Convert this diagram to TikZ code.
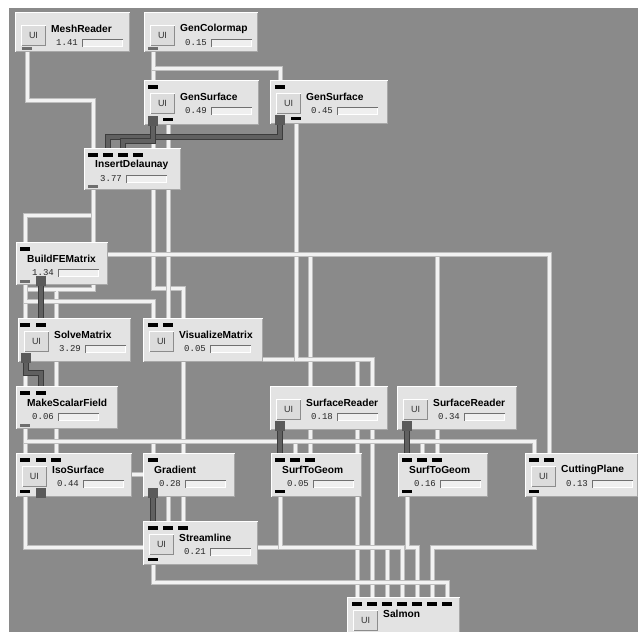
\documentclass[tikz,border=0pt]{standalone}
\usepackage{fontspec}
\setmainfont{Liberation Sans}
\newfontfamily\monof{Liberation Mono}
\definecolor{bg}{HTML}{8A8A8A}
\definecolor{modfill}{HTML}{E3E3E3}
\definecolor{modshd}{HTML}{A8A8A8}
\definecolor{btnfill}{HTML}{DCDCDC}
\definecolor{btnshd}{HTML}{8C8C8C}
\definecolor{barfill}{HTML}{EFEFEF}
\definecolor{barshd}{HTML}{707070}
\definecolor{pin}{HTML}{F2F2F2}
\definecolor{pout}{HTML}{BEBEBE}
\definecolor{din}{HTML}{606060}
\definecolor{dout}{HTML}{3C3C3C}
\definecolor{dport}{HTML}{5A5A5A}
\definecolor{gport}{HTML}{6E6E6E}
\newcommand\bevel[3]{%
  \draw[#2, line width=1pt] ([xshift=.5pt,yshift=.5pt]#1.south west) |- ([xshift=-.5pt,yshift=-.5pt]#1.north east);
  \draw[#3, line width=1pt] ([xshift=.5pt,yshift=.5pt]#1.south west) -| ([xshift=-.5pt,yshift=-.5pt]#1.north east);
}
\newcommand\smod[8]{%
  \node[modbody, minimum width=#4pt, minimum height=#5pt, anchor=north west] (#1) at (#2,#3) {};
  \bevel{#1}{white}{modshd}
  \ifnum#8=0
    \node[ttl] (#1-t) at (#2+11,#3+17) {#6};
    \node[tim] (#1-m) at (#2+16,#3+31) {#7};
    \node[barbox] (#1-b) at (#2+42,#3+27) {};
    \bevel{#1-b}{barshd}{white}
  \else
    \node[uibtn, anchor=north west] (#1-u) at (#2+6,#3+13) {UI};
    \bevel{#1-u}{white}{btnshd}
    \node[ttl] (#1-t) at (#2+36,#3+17) {#6};
    \ifnum#8=1
      \node[tim] (#1-m) at (#2+41,#3+31) {#7};
      \node[barbox] (#1-b) at (#2+67,#3+27) {};
      \bevel{#1-b}{barshd}{white}
    \fi
  \fi
}
\newcommand\portin[1]{\fill[black] ([xshift=-5pt,yshift=-5pt]#1) rectangle ([xshift=5pt,yshift=-8.5pt]#1);}
\newcommand\portout[1]{\fill[black] ([xshift=-5pt,yshift=4pt]#1) rectangle ([xshift=5pt,yshift=7.5pt]#1);}
\newcommand\portgray[1]{\fill[gport] ([xshift=-5pt,yshift=2pt]#1) rectangle ([xshift=5pt,yshift=5pt]#1);}
\newcommand\portdark[1]{\fill[dport] ([xshift=-5pt,yshift=-1pt]#1) rectangle ([xshift=5pt,yshift=9pt]#1);}
\begin{document}
\begin{tikzpicture}[x=1pt,y=-1pt,
  pipe/.style={draw=pin, line width=3pt, preaction={draw=pout, line width=5pt}},
  dpipe/.style={draw=din, line width=3.4pt, preaction={draw=dout, line width=5.4pt}},
  modbody/.style={rectangle, fill=modfill, inner sep=0pt, outer sep=0pt},
  uibtn/.style={rectangle, fill=btnfill, inner sep=0pt, outer sep=0pt, minimum width=25pt, minimum height=21pt, font=\fontsize{9}{10}\selectfont, text=black!80},
  ttl/.style={anchor=west, inner sep=0pt, font=\bfseries\fontsize{10.2}{12}\selectfont},
  tim/.style={anchor=west, inner sep=0pt, font=\monof\fontsize{9}{10}\selectfont, text=black!85},
  barbox/.style={rectangle, anchor=north west, fill=barfill, inner sep=0pt, outer sep=0pt, minimum width=41pt, minimum height=8pt},
]
\useasboundingbox (0,0) rectangle (638,632);
\clip (0,0) rectangle (638,632);
\fill[white] (0,0) rectangle (638,632);
\fill[bg] (9,8) rectangle (640,640);

% ---------- port coordinates ----------
\coordinate (mr-o) at (27,52);
\coordinate (gc-o) at (153,52);
\coordinate (gs1-i) at (153,80);
\coordinate (gs1-d) at (153,125);
\coordinate (gs1-g) at (168,125);
\coordinate (gs2-i) at (280,80);
\coordinate (gs2-d) at (280,124);
\coordinate (gs2-g) at (296,124);
\coordinate (id-i1) at (93,148);
\coordinate (id-i2) at (108,148);
\coordinate (id-i3) at (123,148);
\coordinate (id-i4) at (138,148);
\coordinate (id-o) at (93,190);
\coordinate (bfm-i) at (25,242);
\coordinate (bfm-o) at (25,285);
\coordinate (bfm-d) at (41,285);
\coordinate (sm-i1) at (25,318);
\coordinate (sm-i2) at (41,318);
\coordinate (sm-d) at (26,362);
\coordinate (vm-i1) at (153,318);
\coordinate (vm-i2) at (168,318);
\coordinate (msf-i1) at (25,386);
\coordinate (msf-i2) at (41,386);
\coordinate (msf-o) at (25,429);
\coordinate (iso-i1) at (25,453);
\coordinate (iso-i2) at (41,453);
\coordinate (iso-i3) at (56,453);
\coordinate (iso-o) at (25,497);
\coordinate (iso-d) at (41,497);
\coordinate (gr-i) at (153,453);
\coordinate (gr-d) at (153,497);
\coordinate (sl-i1) at (153,521);
\coordinate (sl-i2) at (168,521);
\coordinate (sl-i3) at (183,521);
\coordinate (sl-o) at (153,565);
\coordinate (sr1-d) at (280,430);
\coordinate (sr2-d) at (407,430);
\coordinate (stg1-i1) at (280,453);
\coordinate (stg1-i2) at (295,453);
\coordinate (stg1-i3) at (310,453);
\coordinate (stg1-o) at (280,497);
\coordinate (stg2-i1) at (407,453);
\coordinate (stg2-i2) at (422,453);
\coordinate (stg2-i3) at (437,453);
\coordinate (stg2-o) at (407,497);
\coordinate (cp-i1) at (534,453);
\coordinate (cp-i2) at (549,453);
\coordinate (cp-o) at (534,497);
\foreach \k in {1,...,7} {\coordinate (sal-i\k) at (342+15*\k,597);}
\coordinate (trunk) at (93,254);
\coordinate (bus) at (25,441);
\coordinate (sj) at (56,474);

% ---------- white pipes ----------
\draw[pipe] (stg1-i3 |- trunk) -- (stg1-i3);
\draw[pipe] (stg2-i3 |- trunk) -- (stg2-i3);
\draw[pipe] (gr-i |- bus) -- (gr-i);
\draw[pipe] (stg1-i2 |- bus) -- (stg1-i2);
\draw[pipe] (stg2-i2 |- bus) -- (stg2-i2);
\draw[pipe] (mr-o) -- ++(0,48) -| (id-i1);
\draw[pipe] (gc-o) -- (gs1-i);
\draw[pipe] (gc-o) -- ++(0,16) -| (gs2-i);
\draw[pipe] (gs1-i) -- ++(0,208) -| (sl-i3);
\draw[pipe] (gs1-g) -- ++(0,234) -| (sal-i1);
\draw[pipe] (gs2-g) -- ++(0,235) -| (sal-i2);
\draw[pipe] (trunk) -- ++(0,35) -| (sj) -| (sl-i2);
\draw[pipe] (56,289) -- (25,289);
\draw[pipe] (id-o) -- ++(0,25) -| (bfm-i);
\draw[pipe] (id-o) -- ++(0,64) -| (cp-i2);
\draw[pipe] (bfm-o) -- (msf-i1);
\draw[pipe] (bfm-o) -- ++(0,16) -| (vm-i1);
\draw[pipe] (msf-o) -- (iso-i1);
\draw[pipe] (msf-o) -- ++(0,12) -| (cp-i1);
\draw[pipe] (iso-o) -- ++(0,50) -| (sal-i3);
\draw[pipe] (stg1-o) -- ++(0,50) -| (sal-i4);
\draw[pipe] (stg2-o) -- ++(0,50) -| (sal-i5);
\draw[pipe] (cp-o) -- ++(0,50) -| (sal-i6);
\draw[pipe] (sl-o) -- ++(0,17) -| (sal-i7);

% ---------- dark pipes ----------
\draw[dpipe] (gs2-d) -- ++(0,13) -| (id-i2);
\draw[dpipe] (gs1-d) -- ++(0,16) -| (id-i3);
\draw[dpipe] (bfm-d) -- (sm-i2);
\draw[dpipe] (sm-d) -- ++(0,11) -| (msf-i2);
\draw[dpipe] (gr-d) -- (sl-i1);
\draw[dpipe] (sr1-d) -- (stg1-i1);
\draw[dpipe] (sr2-d) -- (stg2-i1);

% ---------- modules ----------
\smod{mr}{15}{12}{115}{40}{MeshReader}{1.41}{1}
\smod{gc}{144}{12}{114}{40}{GenColormap}{0.15}{1}
\smod{gs1}{144}{80}{115}{45}{GenSurface}{0.49}{1}
\smod{gs2}{270}{80}{118}{44}{GenSurface}{0.45}{1}
\smod{id}{84}{148}{97}{42}{InsertDelaunay}{3.77}{0}
\smod{bfm}{16}{242}{92}{43}{BuildFEMatrix}{1.34}{0}
\smod{sm}{18}{318}{113}{44}{SolveMatrix}{3.29}{1}
\smod{vm}{143}{318}{120}{44}{VisualizeMatrix}{0.05}{1}
\smod{msf}{16}{386}{102}{43}{MakeScalarField}{0.06}{0}
\smod{iso}{16}{453}{116}{44}{IsoSurface}{0.44}{1}
\smod{gr}{143}{453}{92}{44}{Gradient}{0.28}{0}
\smod{sl}{143}{521}{115}{44}{Streamline}{0.21}{1}
\smod{sr1}{270}{386}{118}{44}{SurfaceReader}{0.18}{1}
\smod{sr2}{397}{386}{120}{44}{SurfaceReader}{0.34}{1}
\smod{stg1}{271}{453}{91}{44}{SurfToGeom}{0.05}{0}
\smod{stg2}{398}{453}{90}{44}{SurfToGeom}{0.16}{0}
\smod{cp}{525}{453}{113}{44}{CuttingPlane}{0.13}{1}
\smod{sal}{347}{597}{113}{45}{Salmon}{}{2}

% ---------- ports ----------
\foreach \p in {gs1-i,gs2-i,id-i1,id-i2,id-i3,id-i4,bfm-i,sm-i1,sm-i2,vm-i1,vm-i2,msf-i1,msf-i2,iso-i1,iso-i2,iso-i3,gr-i,sl-i1,sl-i2,sl-i3,stg1-i1,stg1-i2,stg1-i3,stg2-i1,stg2-i2,stg2-i3,cp-i1,cp-i2,sal-i1,sal-i2,sal-i3,sal-i4,sal-i5,sal-i6,sal-i7} {\portin{\p}}
\foreach \p in {mr-o,gc-o,id-o,bfm-o,msf-o} {\portgray{\p}}
\foreach \p in {gs1-g,gs2-g,iso-o,sl-o,stg1-o,stg2-o,cp-o} {\portout{\p}}
\foreach \p in {gs1-d,gs2-d,bfm-d,sm-d,iso-d,gr-d,sr1-d,sr2-d} {\portdark{\p}}
\end{tikzpicture}
\end{document}
